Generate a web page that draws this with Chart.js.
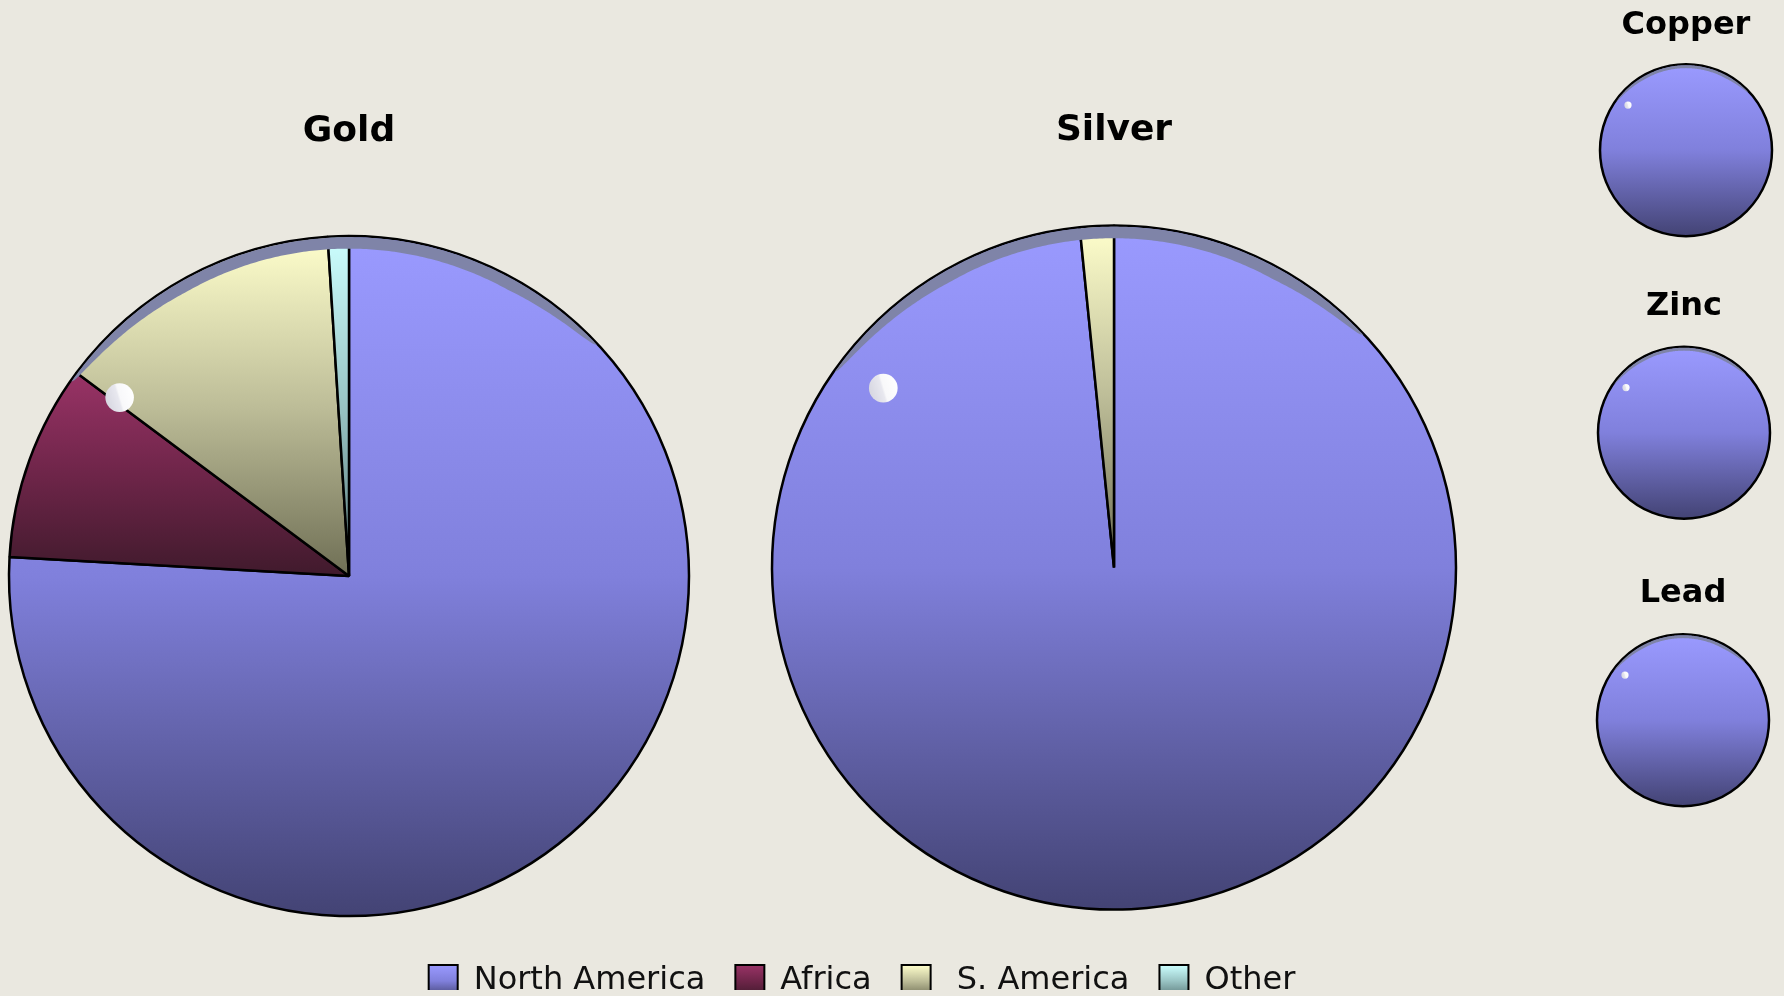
<!DOCTYPE html>
<html>
<head>
<meta charset="utf-8">
<script src="https://cdn.jsdelivr.net/npm/chart.js@4.4.1/dist/chart.umd.min.js"></script>
<style>
  html, body { margin: 0; padding: 0; width: 1784px; height: 996px; overflow: hidden; background: #eae8e0; }
  canvas { position: absolute; }
</style>
</head>
<body>
<canvas id="gold"></canvas>
<canvas id="silver"></canvas>
<canvas id="copper"></canvas>
<canvas id="zinc"></canvas>
<canvas id="lead"></canvas>
<canvas id="legend"></canvas>
<script>
// ---- data ----
const categories = ['North America', 'Africa', ' S. America', 'Other'];
const goldValues = [75.9, 9.3, 13.8, 1.0];
const silverValues = [98.4, 0, 1.6, 0];
const copperValues = [100, 0, 0, 0];
const zincValues = [100, 0, 0, 0];
const leadValues = [100, 0, 0, 0];
const chartTitles = ['Gold', 'Silver', 'Copper', 'Zinc', 'Lead'];

// ---- styles ----
const topColors = ['#9a9aff', '#993366', '#ffffcc', '#ccffff'];
const midColors = ['#8080dc', '#6e2549', '#bdbd98', '#99c4c4'];
const bottomColors = ['#434374', '#401a2c', '#6f6f55', '#5c7c7c'];

Chart.defaults.font.family = "'DejaVu Sans', 'Verdana', sans-serif";
Chart.defaults.color = '#000';

function makeGrad(ctx, y0, y1, i) {
  const g = ctx.createLinearGradient(0, y0, 0, y1);
  g.addColorStop(0, topColors[i]);
  g.addColorStop(0.5, midColors[i]);
  g.addColorStop(1, bottomColors[i]);
  return g;
}

function totalOf(data) { return data.reduce((a, b) => a + b, 0); }

function sliceFill(r) {
  return function (c) {
    const chart = c.chart, i = c.dataIndex, area = chart.chartArea;
    if (!area) return topColors[i];
    const data = chart.data.datasets[0].data;
    const total = totalOf(data);
    let cum = 0;
    for (let k = 0; k < i; k++) cum += data[k];
    const a0 = -Math.PI / 2 + 2 * Math.PI * cum / total;
    const a1 = a0 + 2 * Math.PI * data[i] / total;
    const cx = (area.left + area.right) / 2, cy = (area.top + area.bottom) / 2;
    let ys = [cy, cy + r * Math.sin(a0), cy + r * Math.sin(a1)];
    if (a0 <= -Math.PI / 2 + 1e-9 || a1 >= 1.5 * Math.PI - 1e-9) ys.push(cy - r);
    if (a0 <= Math.PI / 2 && a1 >= Math.PI / 2) ys.push(cy + r);
    const yMin = Math.min(...ys), yMax = Math.max(...ys);
    return makeGrad(chart.ctx, yMin, yMax === yMin ? yMin + 1 : yMax, i);
  };
}

function sliceBorder(c) {
  const data = c.chart.data.datasets[0].data;
  const v = c.raw;
  if (!(v > 0)) return 0;
  if (v >= totalOf(data)) return 0; // full circle: outline drawn by plugin
  return 2.5;
}

const rimPlugin = {
  id: 'rim',
  afterDatasetsDraw(chart) {
    const meta = chart.getDatasetMeta(0);
    const arc = meta.data[0];
    if (!arc) return;
    const cx = arc.x, cy = arc.y, r = arc.outerRadius;
    const ctx = chart.ctx;
    const data = chart.data.datasets[0].data;
    const full = data.some(v => v >= totalOf(data));
    if (full) {
      ctx.save();
      ctx.beginPath();
      ctx.arc(cx, cy, r, 0, Math.PI * 2);
      ctx.lineWidth = 2.5;
      ctx.strokeStyle = '#000';
      ctx.stroke();
      ctx.restore();
    }
    // bluish-grey rim band near the top edge
    const T = Math.max(0.034 * r, 2.8);
    const aS = -55, aE = 47, tL = 25, tR = 18;
    const R = r - 1;
    const pt = (deg, rad) => {
      const a = deg * Math.PI / 180;
      return [cx + rad * Math.sin(a), cy - rad * Math.cos(a)];
    };
    ctx.save();
    ctx.beginPath();
    for (let deg = aS; deg <= aE + 1e-9; deg += 0.5) {
      const p = pt(deg, R);
      if (deg === aS) ctx.moveTo(p[0], p[1]); else ctx.lineTo(p[0], p[1]);
    }
    for (let deg = aE; deg >= aS - 1e-9; deg -= 0.5) {
      let f = Math.min(1, (deg - aS) / tL, (aE - deg) / tR);
      f = Math.max(0, f);
      f = Math.sqrt(f);
      const p = pt(deg, R - T * f);
      ctx.lineTo(p[0], p[1]);
    }
    ctx.closePath();
    ctx.fillStyle = '#7f84a8';
    ctx.fill();
    ctx.restore();
    // highlight dot
    const hx = cx - 0.789 * 0.855 * r, hy = cy - 0.614 * 0.855 * r, hr = Math.max(3.5, 0.042 * r);
    const g = ctx.createLinearGradient(hx - hr, hy + hr * 0.3, hx + hr, hy - hr * 0.3);
    g.addColorStop(0, '#d6d6e0');
    g.addColorStop(0.45, '#e8e8ef');
    g.addColorStop(0.52, '#f8f8fa');
    g.addColorStop(1, '#ffffff');
    ctx.save();
    ctx.beginPath();
    ctx.arc(hx, hy, hr, 0, Math.PI * 2);
    ctx.fillStyle = g;
    ctx.fill();
    ctx.restore();
  }
};

function makePie(id, values, title, cx, cy, r, titleY, fontSize) {
  const canvas = document.getElementById(id);
  const th = fontSize * 1.2;
  const y0 = titleY - th / 2;
  const h = Math.round(2 * cy - 2 * y0 - th);
  const w = Math.round(2 * r + 24);
  canvas.width = w; canvas.height = h;
  canvas.style.width = w + 'px'; canvas.style.height = h + 'px';
  canvas.style.left = (cx - w / 2) + 'px';
  canvas.style.top = y0 + 'px';
  return new Chart(canvas, {
    type: 'pie',
    data: {
      labels: categories,
      datasets: [{
        data: values,
        backgroundColor: sliceFill(r),
        borderColor: '#000',
        borderWidth: sliceBorder,
      }]
    },
    options: {
      responsive: false,
      animation: false,
      events: [],
      radius: r,
      layout: { padding: 0 },
      plugins: {
        legend: { display: false },
        tooltip: { enabled: false },
        title: {
          display: true,
          text: title,
          padding: 0,
          color: '#000',
          font: { size: fontSize, weight: 'bold', lineHeight: 1.2 }
        }
      }
    },
    plugins: [rimPlugin]
  });
}

makePie('gold', goldValues, chartTitles[0], 349, 576, 340, 131.5, 36);
makePie('silver', silverValues, chartTitles[1], 1114, 568, 342, 131, 36);
makePie('copper', copperValues, chartTitles[2], 1686, 150, 86, 25, 32);
makePie('zinc', zincValues, chartTitles[3], 1684, 433, 86, 306.5, 32);
makePie('lead', leadValues, chartTitles[4], 1683, 720, 86, 593, 32);

// ---- legend ----
const legendGradPlugin = {
  id: 'legendGrad',
  beforeDraw(chart) {
    const lg = chart.legend;
    if (!lg || !lg.legendItems || !lg.legendHitBoxes) return;
    lg.legendItems.forEach((item, i) => {
      const hb = lg.legendHitBoxes[i];
      if (!hb) return;
      item.fillStyle = makeGrad(chart.ctx, hb.top, hb.top + 32, i);
    });
  }
};
(function () {
  const canvas = document.getElementById('legend');
  const w = 1724, h = 110;
  canvas.width = w; canvas.height = h;
  canvas.style.width = w + 'px'; canvas.style.height = h + 'px';
  canvas.style.left = '0px';
  canvas.style.top = '935px';
  new Chart(canvas, {
    type: 'pie',
    data: {
      labels: categories,
      datasets: [{ data: goldValues, hidden: true, backgroundColor: topColors, borderColor: '#000', borderWidth: 2 }]
    },
    options: {
      responsive: false,
      animation: false,
      events: [],
      layout: { padding: 0 },
      plugins: {
        tooltip: { enabled: false },
        title: { display: false },
        legend: {
          display: true,
          position: 'top',
          labels: {
            boxWidth: 29,
            boxHeight: 32,
            padding: 30,
            color: '#111',
            font: { size: 32 }
          }
        }
      }
    },
    plugins: [legendGradPlugin]
  });
})();
</script>
</body>
</html>
